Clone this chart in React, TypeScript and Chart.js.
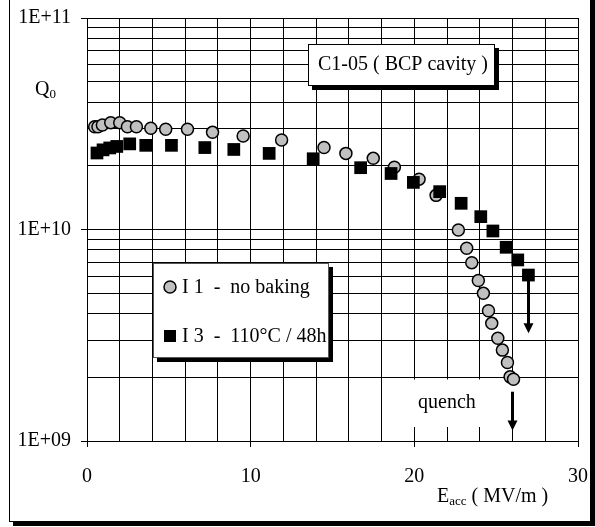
import React, { useEffect, useRef } from 'react';
import { Chart, registerables } from 'chart.js';

Chart.register(...registerables);

// ---- data ----
const noBakingLabel = 'I 1  -  no baking';
const noBakingE = [0.47, 0.67, 0.94, 1.45, 2.0, 2.47, 3.02, 3.9, 4.81, 6.14, 7.67, 9.54, 11.89, 14.48, 15.82, 17.49, 18.78, 20.29, 21.33, 22.69, 23.2, 23.51, 23.91, 24.22, 24.53, 24.73, 25.1, 25.38, 25.69, 25.85, 26.06];
const noBakingQ = [3.06e10, 3.06e10, 3.12e10, 3.2e10, 3.2e10, 3.06e10, 3.06e10, 3.01e10, 2.98e10, 2.98e10, 2.88e10, 2.77e10, 2.65e10, 2.44e10, 2.29e10, 2.17e10, 1.97e10, 1.73e10, 1.45e10, 9.95e9, 8.15e9, 6.97e9, 5.74e9, 4.99e9, 4.13e9, 3.6e9, 3.06e9, 2.69e9, 2.35e9, 2.01e9, 1.96e9];

const bakedLabel = 'I 3  -  110°C / 48h';
const bakedE = [0.61, 0.98, 1.39, 1.82, 2.61, 3.59, 5.16, 7.2, 8.97, 11.13, 13.82, 16.72, 18.58, 19.94, 21.55, 22.86, 24.06, 24.8, 25.61, 26.32, 26.97];
const bakedQ = [2.3e10, 2.38e10, 2.43e10, 2.47e10, 2.54e10, 2.5e10, 2.5e10, 2.44e10, 2.39e10, 2.29e10, 2.16e10, 1.96e10, 1.84e10, 1.67e10, 1.51e10, 1.33e10, 1.15e10, 9.84e9, 8.24e9, 7.18e9, 6.09e9];

// arrows (E position, Q start, Q tip)
const arrowE = [26.97, 25.96];
const arrowFromQ = [6.09e9, 1.71e9];
const arrowToQ = [3.23e9, 1.12e9];

const yDecades = [1e9, 1e10, 1e11];
const yTickLabels = ['1E+09', '1E+10', '1E+11'];
const xMajorTicks = [0, 10, 20, 30];

const titleText = 'C1-05 ( BCP cavity )';
const quenchText = 'quench';

const SERIF = "'Liberation Serif', 'Times New Roman', serif";

function yGridValues(): number[] {
  const out: number[] = [];
  for (let d = 0; d < yDecades.length - 1; d++) {
    for (let m = 1; m <= 9; m++) out.push(yDecades[d] * m);
  }
  out.push(yDecades[yDecades.length - 1]);
  return out;
}

function isDecade(v: number) {
  return yDecades.some((d) => Math.abs(v / d - 1) < 1e-6);
}

function shadowBox(ctx: CanvasRenderingContext2D, x: number, y: number, w: number, h: number, stroke: string) {
  ctx.fillStyle = '#000';
  ctx.fillRect(x + 4, y + 4, w, h);
  ctx.fillStyle = '#fff';
  ctx.fillRect(x, y, w, h);
  ctx.strokeStyle = stroke;
  ctx.lineWidth = 1;
  ctx.strokeRect(x + 0.5, y + 0.5, w - 1, h - 1);
}

function drawArrow(ctx: CanvasRenderingContext2D, x: number, y1: number, y2: number) {
  const head = 10;
  ctx.strokeStyle = '#000';
  ctx.lineWidth = 3;
  ctx.beginPath();
  ctx.moveTo(x, y1);
  ctx.lineTo(x, y2 - head + 1);
  ctx.stroke();
  ctx.fillStyle = '#000';
  ctx.beginPath();
  ctx.moveTo(x - 5, y2 - head);
  ctx.lineTo(x + 5, y2 - head);
  ctx.lineTo(x, y2);
  ctx.closePath();
  ctx.fill();
}

export default function App() {
  const ref = useRef<HTMLCanvasElement>(null);

  useEffect(() => {
    const canvas = ref.current;
    if (!canvas) return;

    const overlay = {
      id: 'overlay',
      beforeDatasetsDraw(chart: any) {
        const ctx: CanvasRenderingContext2D = chart.ctx;
        ctx.save();
        shadowBox(ctx, 308, 44, 187, 42, '#000');
        shadowBox(ctx, 153, 263, 176, 95, '#555');
        ctx.fillStyle = '#fff';
        ctx.fillRect(404, 379.5, 120, 47.5);
        ctx.restore();
      },
      afterDatasetsDraw(chart: any) {
        const ctx: CanvasRenderingContext2D = chart.ctx;
        const xs = chart.scales.x;
        const ys = chart.scales.y;
        ctx.save();
        for (let i = 0; i < arrowE.length; i++) {
          const px = Math.round(xs.getPixelForValue(arrowE[i])) + 0.5;
          drawArrow(ctx, px, ys.getPixelForValue(arrowFromQ[i]), ys.getPixelForValue(arrowToQ[i]));
        }
        ctx.fillStyle = '#000';
        ctx.textBaseline = 'middle';
        ctx.textAlign = 'left';
        ctx.font = `20px ${SERIF}`;
        ctx.fillText(titleText, 318, 65);
        ctx.fillText(quenchText, 418, 403);

        // legend
        const ds = chart.data.datasets;
        const circ = ds.find((d: any) => d.pointStyle === 'circle');
        const sq = ds.find((d: any) => d.pointStyle === 'rect');
        ctx.beginPath();
        ctx.arc(170, 287, 6, 0, Math.PI * 2);
        ctx.fillStyle = circ.backgroundColor;
        ctx.fill();
        ctx.lineWidth = 1.5;
        ctx.strokeStyle = '#000';
        ctx.stroke();
        ctx.fillStyle = sq.backgroundColor;
        ctx.fillRect(164, 330, 12, 12);
        ctx.fillStyle = '#000';
        ctx.font = `20px ${SERIF}`;
        ctx.fillText(circ.label, 182, 288);
        ctx.fillText(sq.label, 182, 337);

        // axis titles
        ctx.font = `20px ${SERIF}`;
        ctx.fillText('Q', 35, 90);
        const qw = ctx.measureText('Q').width;
        ctx.font = `13px ${SERIF}`;
        ctx.fillText('0', 35 + qw, 95);

        ctx.font = `20px ${SERIF}`;
        ctx.fillText('E', 437, 497);
        let ex = 437 + ctx.measureText('E').width;
        ctx.font = `13px ${SERIF}`;
        ctx.fillText('acc', ex, 502);
        ex += ctx.measureText('acc').width;
        ctx.font = `20px ${SERIF}`;
        ctx.fillText(' ( MV/m )', ex, 497);
        ctx.restore();
      },
    };

    const chart = new Chart(canvas, {
      type: 'scatter',
      data: {
        datasets: [
          {
            label: noBakingLabel,
            data: noBakingE.map((e, i) => ({ x: e, y: noBakingQ[i] })),
            pointStyle: 'circle',
            pointRadius: 6,
            pointBackgroundColor: '#c0c0c0',
            backgroundColor: '#c0c0c0',
            pointBorderColor: '#000',
            pointBorderWidth: 1.5,
            showLine: false,
            order: 2,
          },
          {
            label: bakedLabel,
            data: bakedE.map((e, i) => ({ x: e, y: bakedQ[i] })),
            pointStyle: 'rect',
            pointRadius: 9,
            pointBackgroundColor: '#000',
            backgroundColor: '#000',
            pointBorderColor: '#000',
            pointBorderWidth: 0,
            showLine: false,
            order: 1,
          },
        ],
      } as any,
      options: {
        animation: false,
        responsive: false,
        devicePixelRatio: 1,
        layout: { padding: { left: 0, right: 17, top: 18, bottom: 0 } },
        plugins: {
          legend: { display: false },
          tooltip: { enabled: false },
        },
        scales: {
          x: {
            type: 'linear',
            min: 0,
            max: 30,
            afterFit: (s: any) => {
              s.height = 86;
              s.paddingLeft = 0;
              s.paddingRight = 0;
            },
            ticks: {
              stepSize: 2,
              autoSkip: false,
              maxRotation: 0,
              color: '#000',
              padding: 18,
              font: { family: SERIF, size: 20 },
              callback: (v: any) => (xMajorTicks.includes(Number(v)) ? String(v) : ''),
            },
            grid: {
              color: '#000',
              lineWidth: 1,
              tickLength: 6,
              tickColor: (c: any) => (c.tick && xMajorTicks.includes(c.tick.value) ? '#000' : 'rgba(0,0,0,0)'),
            },
            border: { display: true, color: '#000', width: 1 },
          },
          y: {
            type: 'logarithmic',
            min: yDecades[0],
            max: yDecades[yDecades.length - 1],
            afterFit: (s: any) => {
              s.width = 87;
              s.paddingTop = 0;
              s.paddingBottom = 0;
            },
            afterBuildTicks: (s: any) => {
              s.ticks = yGridValues().map((v) => ({ value: v }));
            },
            ticks: {
              autoSkip: false,
              color: '#000',
              padding: 10,
              font: { family: SERIF, size: 20 },
              callback: (v: any) => {
                const idx = yDecades.findIndex((d) => Math.abs(Number(v) / d - 1) < 1e-6);
                return idx >= 0 ? yTickLabels[idx] : '';
              },
            },
            grid: {
              color: '#000',
              lineWidth: 1,
              tickLength: 6,
              tickColor: (c: any) => (c.tick && isDecade(c.tick.value) ? '#000' : 'rgba(0,0,0,0)'),
            },
            border: { display: true, color: '#000', width: 1 },
          },
        },
      } as any,
      plugins: [overlay],
    });

    return () => chart.destroy();
  }, []);

  return (
    <div style={{ position: 'absolute', left: 0, top: 0, width: 595, height: 527, overflow: 'hidden', background: '#fff' }}>
      <div
        style={{
          position: 'absolute',
          left: 9,
          top: -5,
          width: 582,
          height: 527,
          boxSizing: 'border-box',
          border: '1px solid #000',
          boxShadow: '4px 4px 0 #000',
        }}
      />
      <canvas ref={ref} width={595} height={527} style={{ position: 'absolute', left: 0, top: 0, width: 595, height: 527 }} />
    </div>
  );
}
